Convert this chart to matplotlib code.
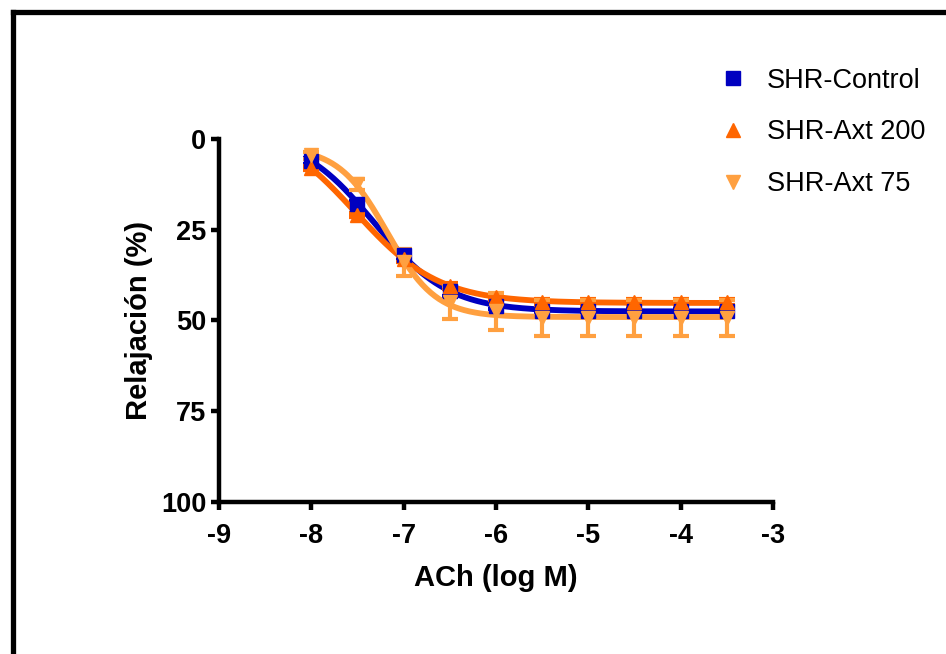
import numpy as np
import matplotlib.pyplot as plt
from matplotlib.lines import Line2D

plt.rcParams['font.family'] = ['Liberation Sans', 'DejaVu Sans']
plt.rcParams['axes.unicode_minus'] = False

# log [ACh] (M)
log_ach = [-8, -7.5, -7, -6.5, -6, -5.5, -5, -4.5, -4, -3.5]

# relaxation (%), mean and error per group
control = [6, 18, 32, 42, 46, 47.3, 47.3, 47.3, 47.3, 47.3]
control_err = [0.8, 0.8, 1.2, 1.2, 0.8, 0.8, 0.8, 0.8, 0.8, 0.8]
axt200 = [8, 21, 33, 40.5, 43.5, 45, 45, 45, 45, 45]
axt200_err = [0.6, 0.6, 0.8, 0.8, 0.8, 0.8, 0.8, 0.8, 0.8, 0.8]
axt75 = [4.5, 12.5, 34, 45, 47.5, 49.3, 49.3, 49.3, 49.3, 49.3]
axt75_err = [1, 1.5, 3.7, 4.5, 5, 5, 5, 5, 5, 5]

labels = ["SHR-Control", "SHR-Axt 200", "SHR-Axt 75"]
colors = ["#0000C0", "#FF6600", "#FFA040"]
markers = ["s", "^", "v"]


def fit_sigmoid(x, y):
    # simple 4PL fit: grid over logEC50 / slope, linear solve for plateaus
    x = np.asarray(x, float)
    y = np.asarray(y, float)
    best = None
    for ec in np.linspace(-8.8, -6.0, 141):
        for h in np.linspace(0.3, 3.0, 136):
            s = 1.0 / (1.0 + 10 ** ((ec - x) * h))
            A = np.column_stack([np.ones_like(s), s])
            coef, *_ = np.linalg.lstsq(A, y, rcond=None)
            err = np.sum((A @ coef - y) ** 2)
            if best is None or err < best[0]:
                best = (err, ec, h, coef)
    _, ec, h, coef = best
    return lambda xx: coef[0] + coef[1] / (1.0 + 10 ** ((ec - xx) * h))


fig = plt.figure(figsize=(9.46, 6.54), dpi=100)
ax = fig.add_axes([0.2315, 0.2324, 0.5855, 0.5551])

xs = np.linspace(-8, -3.5, 300)
series = [(control, control_err), (axt200, axt200_err), (axt75, axt75_err)]
for (vals, errs), lab, col, mk in zip(series, labels, colors, markers):
    f = fit_sigmoid(log_ach, vals)
    ax.plot(xs, f(xs), color=col, lw=4.2, solid_capstyle="round")
    ax.errorbar(log_ach, vals, yerr=errs, fmt=mk, color=col, ms=10.5,
                elinewidth=3, capsize=6, capthick=3, label=lab)

ax.set_xlim(-9, -3)
ax.set_ylim(100, 0)
ax.set_xticks(range(-9, -2))
ax.set_yticks([0, 25, 50, 75, 100])
for side in ["top", "right"]:
    ax.spines[side].set_visible(False)
for side in ["left", "bottom"]:
    ax.spines[side].set_linewidth(3.2)
ax.tick_params(width=3.2, length=6, labelsize=19.5)
ax.tick_params(axis="x", pad=9)
ax.tick_params(axis="y", pad=3)
for t in ax.get_xticklabels() + ax.get_yticklabels():
    t.set_fontweight("bold")

ax.set_xlabel("ACh (log M)", fontsize=21, fontweight="bold", labelpad=11)
ax.set_ylabel("Relajación (%)", fontsize=21, fontweight="bold", labelpad=6)

handles = [Line2D([], [], ls="none", marker=m, color=c, ms=10) for m, c in zip(markers, colors)]
fig.legend(handles, labels, loc="upper left", bbox_to_anchor=(0.735, 0.934),
           frameon=False, fontsize=19.5, handletextpad=0.75, labelspacing=0.95,
           handlelength=1.0)

# frame of the original figure (top and left edges visible)
fig.add_artist(Line2D([0.0135, 1.0], [0.9815, 0.9815], color="black", lw=3.8,
                      transform=fig.transFigure, solid_capstyle="projecting"))
fig.add_artist(Line2D([0.0135, 0.0135], [0.0, 0.9815], color="black", lw=3.8,
                      transform=fig.transFigure, solid_capstyle="projecting"))

fig.savefig("out.png", dpi=100)
